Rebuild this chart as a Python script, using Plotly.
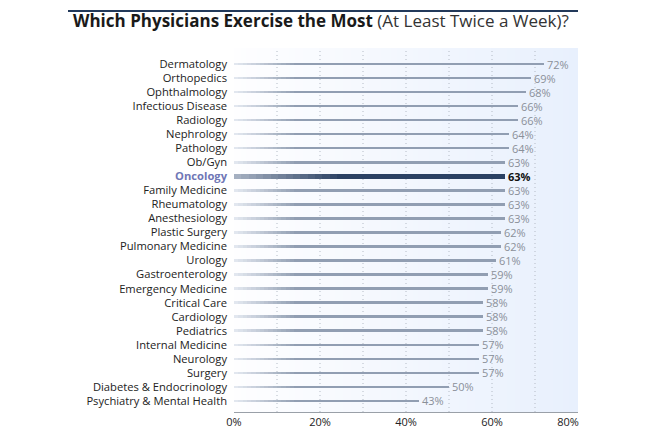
import base64, struct, zlib
import plotly.graph_objects as go

categories = ["Dermatology", "Orthopedics", "Ophthalmology", "Infectious Disease", "Radiology",
              "Nephrology", "Pathology", "Ob/Gyn", "Oncology", "Family Medicine", "Rheumatology",
              "Anesthesiology", "Plastic Surgery", "Pulmonary Medicine", "Urology",
              "Gastroenterology", "Emergency Medicine", "Critical Care", "Cardiology",
              "Pediatrics", "Internal Medicine", "Neurology", "Surgery",
              "Diabetes & Endocrinology", "Psychiatry & Mental Health"]
values = [72, 69, 68, 66, 66, 64, 64, 63, 63, 63, 63, 63, 62, 62, 61, 59, 59, 58, 58, 58, 57, 57, 57, 50, 43]
highlight = "Oncology"
x_ticks = [0, 20, 40, 60, 80]
x_tick_labels = ["0%", "20%", "40%", "60%", "80%"]
grid_vals = [10, 20, 30, 40, 50, 60, 70]

FONT = "Open Sans"

def mix(c1, c2, t):
    return tuple(round(a + (b - a) * t) for a, b in zip(c1, c2))

def hexc(c):
    return "#%02x%02x%02x" % c

# background gradient PNG
def make_png(pixels, w, h):
    raw = b"".join(b"\x00" + bytes([v for px in pixels[r * w:(r + 1) * w] for v in px]) for r in range(h))
    def chunk(t, d):
        c = struct.pack(">I", len(d)) + t + d
        return c + struct.pack(">I", zlib.crc32(t + d) & 0xffffffff)
    return (b"\x89PNG\r\n\x1a\n" + chunk(b"IHDR", struct.pack(">IIBBBBB", w, h, 8, 2, 0, 0, 0))
            + chunk(b"IDAT", zlib.compress(raw)) + chunk(b"IEND", b""))

W = 128
bg_left, bg_right = (254, 254, 255), (232, 240, 253)
pix = [mix(bg_left, bg_right, i / (W - 1)) for i in range(W)]
bg_src = "data:image/png;base64," + base64.b64encode(make_png(pix, W, 1)).decode()

fig = go.Figure()

# bars with left-side gradient (overlapping segments from each edge to the value)
K = 14
reg_start, reg_end, reg_fade = (226, 231, 239), (145, 158, 178), 14.0
hi_start, hi_end, hi_fade = (165, 176, 193), (43, 65, 99), 24.0
is_hi = [c == highlight for c in categories]
widths = [0.38 if h else 0.18 for h in is_hi]
for i in range(K + 1):
    t = i / K
    bases, lens, cols = [], [], []
    for v, h in zip(values, is_hi):
        fade = hi_fade if h else reg_fade
        b = min(fade * t, v)
        bases.append(b)
        lens.append(v - b)
        cols.append(hexc(mix(hi_start, hi_end, t) if h else mix(reg_start, reg_end, t)))
    fig.add_trace(go.Bar(y=categories, x=lens, base=bases, orientation="h", width=widths,
                         marker=dict(color=cols, line=dict(width=0)), hoverinfo="skip",
                         showlegend=False))

# value labels
annotations = []
for c, v, h in zip(categories, values, is_hi):
    annotations.append(dict(x=v, y=c, xref="x", yref="y", xanchor="left", yanchor="middle",
                            xshift=1, showarrow=False,
                            text=f"<b>{v}%</b>" if h else f"{v}%",
                            font=dict(family=FONT, size=11, color="#111111" if h else "#8a9099")))

ticktext = [f"<b><span style='color:#6f77b6'>{c}</span></b>" if h else c for c, h in zip(categories, is_hi)]

# last x tick label sits flush with the plot's right edge
x_tick_text = x_tick_labels[:-1] + [x_tick_labels[-1] + "&nbsp;" * 7]

# page body has an 8px margin: figure is sized/shifted to compensate
FW, FH = 637, 431
ML, MT, MR, MB = 226, 40, 67, 27
PW, PH = FW - ML - MR, FH - MT - MB

shapes = [dict(type="line", xref="x", yref="paper", x0=g, x1=g, y0=0, y1=1, layer="between",
               line=dict(color="#b4bbc6", width=1, dash="1px,3px")) for g in grid_vals]
shapes.append(dict(type="line", xref="paper", yref="paper", x0=-(ML - 60) / PW, x1=1.0,
                   y0=1 + (MT - 3) / PH, y1=1 + (MT - 3) / PH, line=dict(color="#22395a", width=2)))

annotations.append(dict(xref="paper", yref="paper", x=-(ML - 63) / PW, y=1 + (MT - 12) / PH,
                        xanchor="left", yanchor="middle", showarrow=False,
                        text="<b>Which Physicians Exercise the Most</b> <span style='color:#333333'>(At Least Twice a Week)?</span>",
                        font=dict(family=FONT, size=17, color="#1a1a1a")))

fig.update_layout(
    width=FW, height=FH,
    margin=dict(l=ML, r=MR, t=MT, b=MB, autoexpand=False),
    paper_bgcolor="white", plot_bgcolor="white",
    barmode="overlay", bargap=0,
    font=dict(family=FONT, size=11, color="#222222"),
    shapes=shapes,
    images=[dict(source=bg_src, xref="x", yref="paper", x=0, y=1, sizex=80, sizey=1,
                 sizing="stretch", layer="below", xanchor="left", yanchor="top")],
    annotations=annotations,
    xaxis=dict(range=[0, 80], tickvals=x_ticks, ticktext=x_tick_text, showgrid=False, zeroline=False,
               showline=True, linecolor="#9aa0a8", linewidth=1, ticks="",
               tickfont=dict(family=FONT, size=11, color="#222222"), fixedrange=True),
    yaxis=dict(type="category", categoryorder="array", categoryarray=categories,
               range=[24.79, -1.14], tickvals=categories, ticktext=ticktext, ticks="",
               ticklabelstandoff=6, showgrid=False, zeroline=False, showline=False,
               tickfont=dict(family=FONT, size=11.2, color="#222222"), fixedrange=True),
)

fig.write_html("out.html")
